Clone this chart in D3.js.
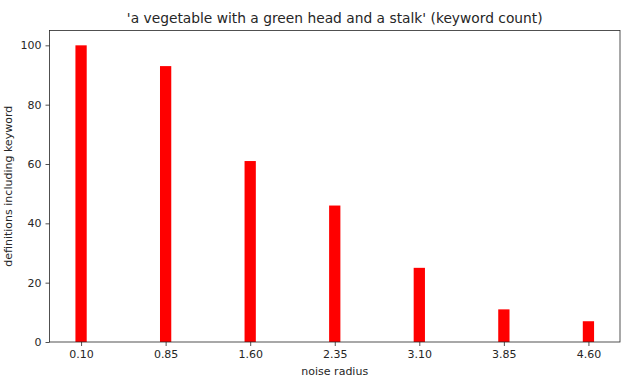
<!DOCTYPE html>
<html><head><meta charset="utf-8">
<script src="https://cdn.jsdelivr.net/npm/d3@7"></script>
<style>body{margin:0;background:#fff}svg{display:block}text{font-family:"DejaVu Sans",sans-serif;fill:#262626}</style>
</head><body><svg id="c" width="629" height="384"></svg>
<script>
const categories = [0.10, 0.85, 1.60, 2.35, 3.10, 3.85, 4.60];
const counts = [100, 93, 61, 46, 25, 11, 7];
const xTickLabels = ["0.10","0.85","1.60","2.35","3.10","3.85","4.60"];
const yTicks = [0, 20, 40, 60, 80, 100];
const titleText = "'a vegetable with a green head and a stalk' (keyword count)";
const xLabel = "noise radius";
const yLabel = "definitions including keyword";

const svg = d3.select("#c");
const L = 49.5, R = 620, T = 30.5, B = 342;
const barW = 0.1;
const x = d3.scaleLinear().domain([-0.18, 4.88]).range([L, R]);
const y = d3.scaleLinear().domain([0, 105]).range([B, T]);

svg.append("g").selectAll("rect").data(counts).join("rect")
  .attr("x", (d,i) => x(categories[i] - barW/2))
  .attr("width", (d,i) => x(categories[i] + barW/2) - x(categories[i] - barW/2))
  .attr("y", d => y(d))
  .attr("height", d => y(0) - y(d))
  .attr("fill", "#ff0000");

const xAxis = d3.axisBottom(x).tickValues(categories).tickFormat((d,i) => xTickLabels[i]).tickSize(4).tickPadding(4);
const gx = svg.append("g").attr("transform", `translate(0,${B})`).call(xAxis);
const yAxis = d3.axisLeft(y).tickValues(yTicks).tickSize(4).tickPadding(4);
const gy = svg.append("g").attr("transform", `translate(${L},0)`).call(yAxis);
[gx, gy].forEach(g => {
  g.select(".domain").remove();
  g.selectAll("line").attr("stroke", "#262626").attr("stroke-width", 0.8);
  g.selectAll("text").attr("font-size", 11).attr("font-family", "DejaVu Sans").attr("fill", "#262626");
});
svg.append("rect").attr("x", L).attr("y", T).attr("width", R - L).attr("height", B - T)
  .attr("fill", "none").attr("stroke", "#262626").attr("stroke-width", 0.8);

svg.append("text").attr("x", (L+R)/2).attr("y", 23).attr("text-anchor", "middle").attr("font-size", 13.8).text(titleText);
svg.append("text").attr("x", (L+R)/2).attr("y", 375).attr("text-anchor", "middle").attr("font-size", 11).text(xLabel);
svg.append("text").attr("transform", `translate(12,${(T+B)/2}) rotate(-90)`).attr("text-anchor", "middle").attr("font-size", 11).text(yLabel);
</script></body></html>
